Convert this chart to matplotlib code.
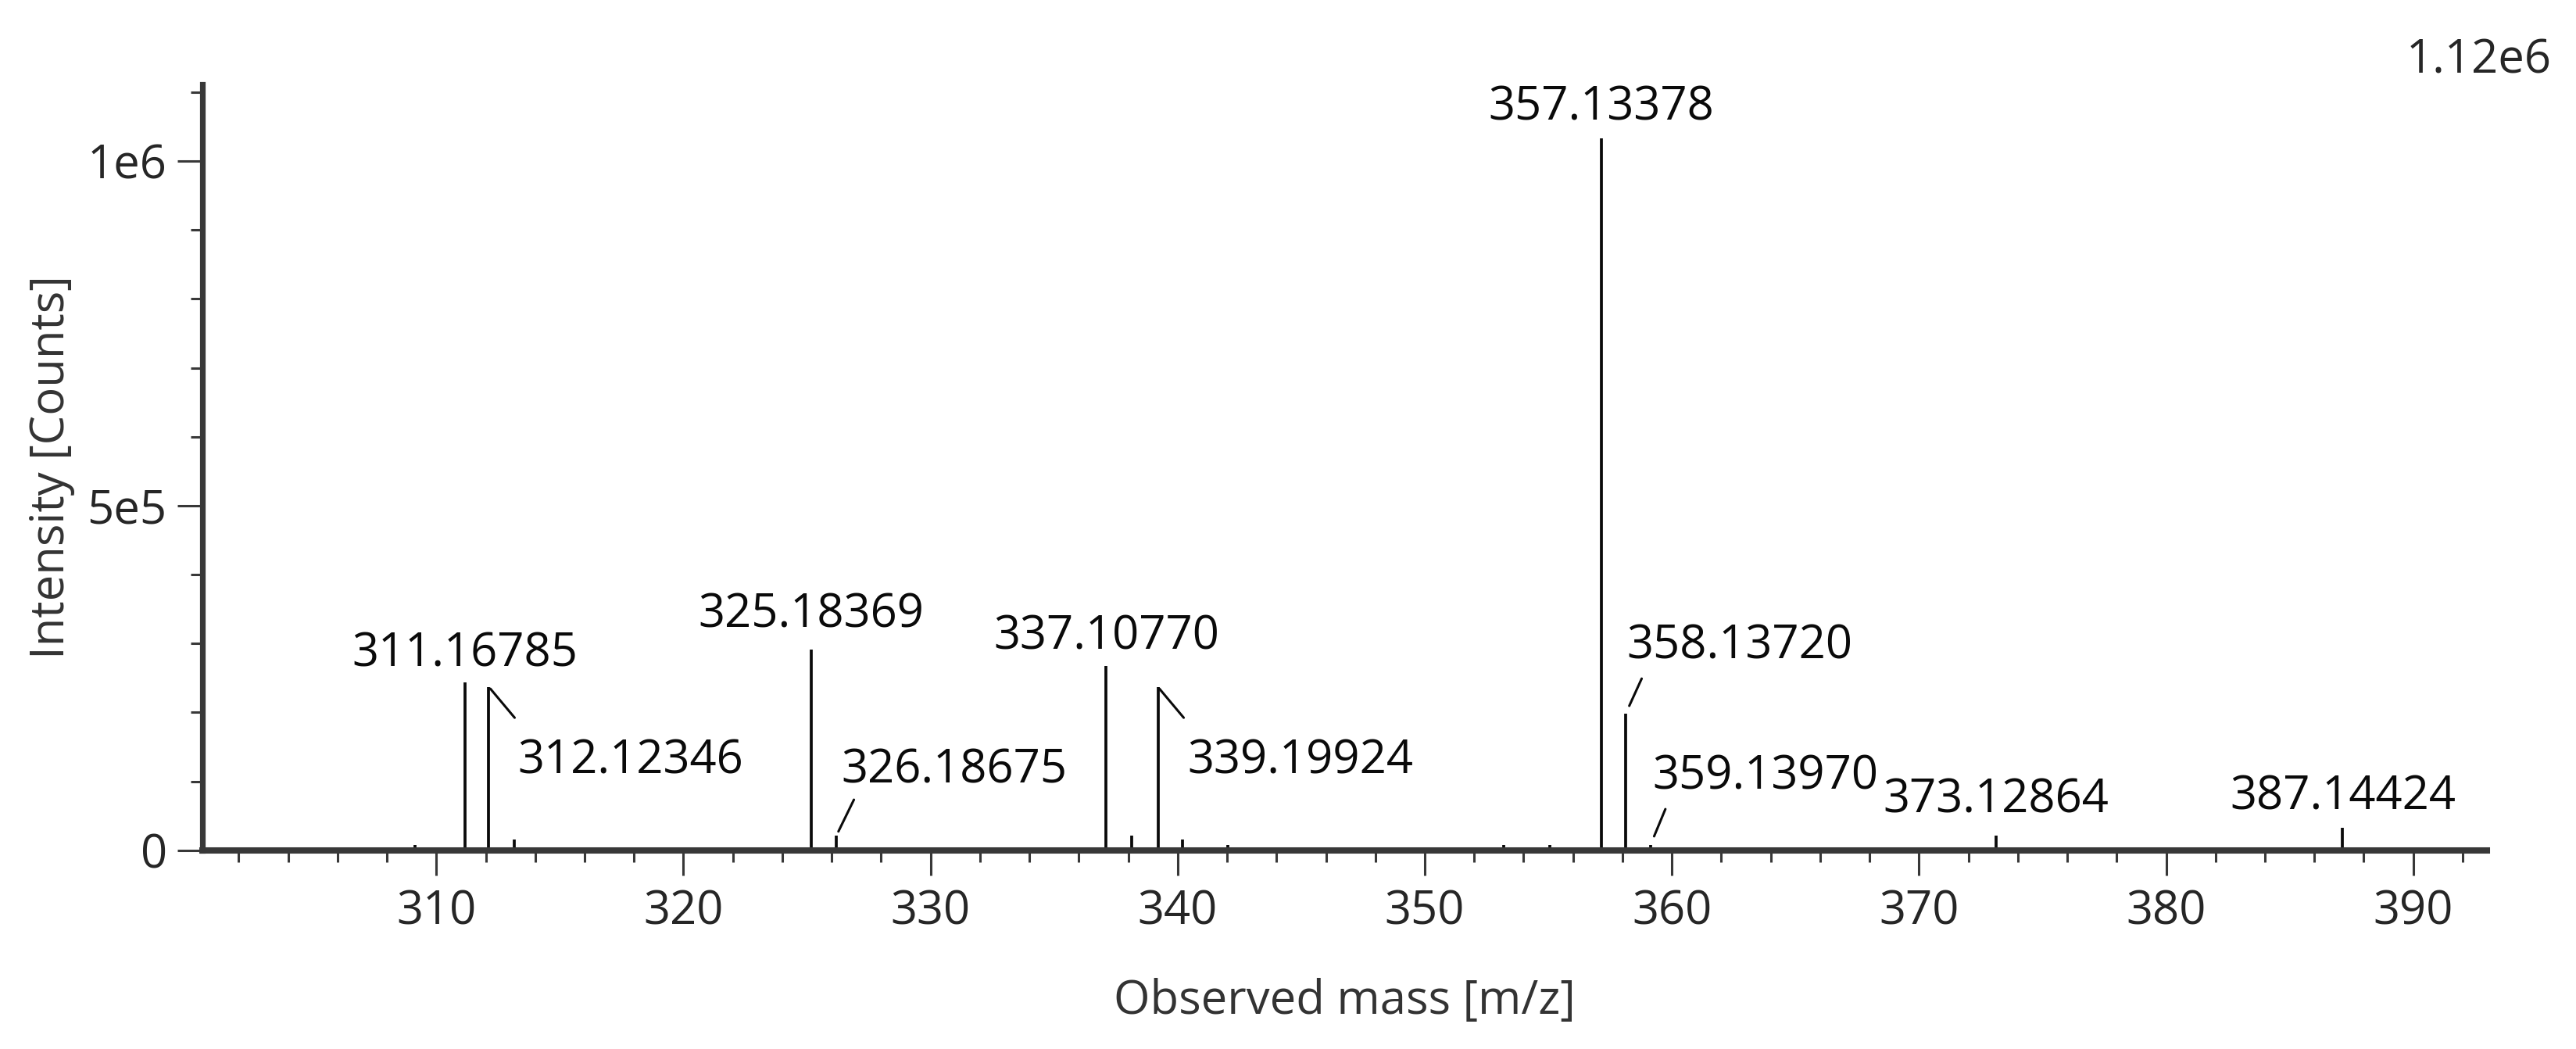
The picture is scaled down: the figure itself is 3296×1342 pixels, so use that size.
import matplotlib
matplotlib.use("Agg")
import matplotlib.pyplot as plt
from matplotlib.ticker import MultipleLocator, FixedLocator, FixedFormatter
import numpy as np

# ---------------- data ----------------
mz_values = [309.13, 311.16785, 312.12346, 313.15, 325.18369, 326.18675,
             337.10770, 338.13, 339.19924, 340.18, 342.04, 353.19, 355.06,
             357.13378, 358.13720, 359.13970, 373.12864, 387.14424]
intensities = [8000, 243500, 237000, 15500, 291500, 21000,
               267700, 21000, 237000, 15500, 8000, 8000, 8000,
               1033000, 198600, 8000, 21000, 32000]
labeled_mz = [311.16785, 312.12346, 325.18369, 326.18675, 337.10770,
              339.19924, 357.13378, 358.13720, 359.13970, 373.12864, 387.14424]
x_ticks = [310, 320, 330, 340, 350, 360, 370, 380, 390]
y_ticks = [0, 5e5, 1e6]
y_tick_labels = ["0", "5e5", "1e6"]
x_label = "Observed mass [m/z]"
y_label = "Intensity [Counts]"
scale_text = "1.12e6"

# ---------------- label styles (offsets in points) ----------------
# (ha, text_dx, text_dy, leader: (start_dist, end_dx, end_dy) or None)
label_style = {
    311.16785: ("center", 0, 7.4, None),
    312.12346: ("left", 13.2, -39.7, (1.1, 11.9, -14.2)),
    325.18369: ("center", 0, 10.0, None),
    326.18675: ("left", 2.3, 24.4, (2.2, 8.1, 16.6)),
    337.10770: ("center", 0, 7.6, None),
    339.19924: ("left", 13.5, -40.0, (1.1, 11.9, -14.2)),
    357.13378: ("center", 0, 8.3, None),
    358.13720: ("left", 0.4, 25.2, (3.8, 7.3, 16.0)),
    359.13970: ("left", 1.0, 25.7, (4.2, 6.8, 16.4)),
    373.12864: ("center", 0, 10.8, None),
    387.14424: ("center", 0, 8.7, None),
}

plt.rcParams["font.family"] = ["Open Sans", "DejaVu Sans"]
FS = 21.5
axis_col = "#383838"
text_col = "#262626"

fig = plt.figure(figsize=(16.48, 6.71), dpi=200)
ax = fig.add_axes([0.07867, 0.18949, 0.88665, 0.72981])

ax.vlines(mz_values, 0, intensities, colors="#0a0a0a", linewidth=1.35, zorder=3)

ax.set_xlim(300.543, 392.973)
ax.set_ylim(0, 1.1108e6)

for s in ("top", "right"):
    ax.spines[s].set_visible(False)
ax.spines["left"].set_linewidth(2.6)
ax.spines["bottom"].set_linewidth(2.9)
ax.spines["left"].set_color(axis_col)
ax.spines["bottom"].set_color(axis_col)
ax.spines["left"].set_zorder(4)
ax.spines["bottom"].set_zorder(4)

ax.xaxis.set_major_locator(FixedLocator(x_ticks))
ax.xaxis.set_minor_locator(MultipleLocator(2))
ax.yaxis.set_major_locator(FixedLocator(y_ticks))
ax.yaxis.set_major_formatter(FixedFormatter(y_tick_labels))
ax.yaxis.set_minor_locator(MultipleLocator(1e5))

ax.tick_params(which="major", direction="out", length=11.4, width=1.1,
               color=axis_col, labelsize=FS, labelcolor=text_col)
ax.tick_params(which="minor", direction="out", length=5.4, width=1.1,
               color=axis_col)
ax.tick_params(axis="x", which="major", pad=6)
ax.tick_params(axis="y", which="major", pad=5)

ax.set_xlabel(x_label, fontsize=FS, color="#333333")
ax.xaxis.label.set_va("baseline")
ax.xaxis.set_label_coords(0.5, -0.2134)
ax.set_ylabel(y_label, fontsize=FS, color="#333333")
ax.yaxis.label.set_va("baseline")
ax.yaxis.set_label_coords(-0.0608, 0.5)

for m, h in zip(mz_values, intensities):
    if m not in labeled_mz:
        continue
    ha, dx, dy, leader = label_style[m]
    ax.annotate(f"{m:.5f}", xy=(m, h), xytext=(dx, dy), textcoords="offset points",
                ha=ha, va="baseline", fontsize=FS, color="#0a0a0a", zorder=5)
    if leader is not None:
        sA, ex, ey = leader
        ax.annotate("", xy=(m, h), xytext=(ex, ey), textcoords="offset points",
                    arrowprops=dict(arrowstyle="-", color="#0a0a0a", lw=1.1,
                                    shrinkA=0, shrinkB=sA), zorder=5)

fig.text(0.9906, 0.9300, scale_text, ha="right", va="baseline",
         fontsize=FS, color=text_col)

fig.savefig("out.png", dpi=200, facecolor="white")
